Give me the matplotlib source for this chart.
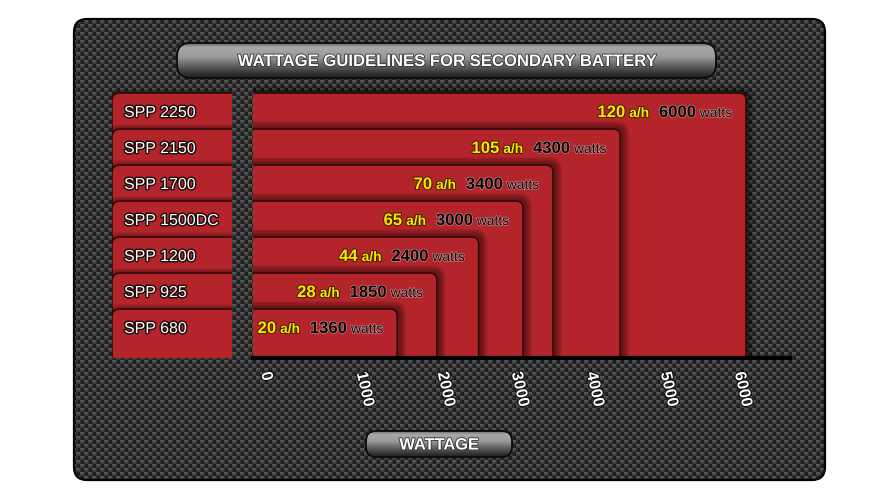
import numpy as np
import matplotlib
matplotlib.use('Agg')
import matplotlib.pyplot as plt
from matplotlib.patches import FancyBboxPatch
from matplotlib.transforms import IdentityTransform, Bbox
import matplotlib.patheffects as pe

# ---------------- data ----------------
models = ['SPP 2250', 'SPP 2150', 'SPP 1700', 'SPP 1500DC', 'SPP 1200', 'SPP 925', 'SPP 680']
watts = [6000, 4300, 3400, 3000, 2400, 1850, 1360]
amp_hours = [120, 105, 70, 65, 44, 28, 20]
tick_values = [0, 1000, 2000, 3000, 4000, 5000, 6000]
title = 'WATTAGE GUIDELINES FOR SECONDARY BATTERY'
xlabel = 'WATTAGE'

plt.rcParams['font.family'] = ['Liberation Sans', 'DejaVu Sans']

W, H = 896, 500
fig = plt.figure(figsize=(W / 100, H / 100), dpi=100)
fig.patch.set_facecolor('white')

RED = '#B3252A'
YELLOW = '#FFE400'

# ---------------- background axes (pixel coords, y down) ----------------
bg = fig.add_axes([0, 0, 1, 1])
bg.set_xlim(0, W)
bg.set_ylim(H, 0)
bg.axis('off')

panel = FancyBboxPatch((74, 19), 751, 461, boxstyle='round,pad=0,rounding_size=13',
                       facecolor='#262626', edgecolor='none', zorder=1)
bg.add_patch(panel)
yy, xx = np.mgrid[0:H, 0:W]
cell = ((yy // 4) + (xx // 4)) % 2
ly = yy % 4
lx = xx % 4
tex = np.where(cell == 0, 90 - 11 * ly, 44 - 6 * lx) / 255.0
img = bg.imshow(tex, cmap='gray', vmin=0, vmax=1, extent=(0, W, H, 0),
                interpolation='nearest', zorder=2, aspect='auto')
img.set_clip_path(panel)
bg.add_patch(FancyBboxPatch((74, 19), 751, 461, boxstyle='round,pad=0,rounding_size=13',
                            facecolor='none', edgecolor='#050505', lw=1.6, zorder=3))
bg.set_xlim(0, W)
bg.set_ylim(H, 0)


def pill(x, y, w, h, text, size):
    p = FancyBboxPatch((x, y), w, h, boxstyle='round,pad=0,rounding_size=%f' % (h / 2.6),
                       facecolor='#555555', edgecolor='none', zorder=4)
    bg.add_patch(p)
    fr = np.linspace(0, 1, 64)
    g = np.interp(fr, [0, 0.12, 0.4, 0.6, 0.85, 1], [0.40, 0.66, 0.60, 0.42, 0.22, 0.12])
    grad = np.tile(g[:, None], (1, 8))
    gi = bg.imshow(grad, cmap='gray', vmin=0, vmax=1, extent=(x, x + w, y + h, y),
                   interpolation='bilinear', zorder=5, aspect='auto')
    gi.set_clip_path(p)
    bg.add_patch(FancyBboxPatch((x, y), w, h, boxstyle='round,pad=0,rounding_size=%f' % (h / 2.6),
                                facecolor='none', edgecolor='#0a0a0a', lw=1.3, zorder=6))
    bg.text(x + w / 2, y + h / 2 + 1, text, ha='center', va='center', color='white',
            fontsize=size, fontweight='bold', zorder=7,
            path_effects=[pe.withStroke(linewidth=1.2, foreground='#333333')])


pill(177, 43, 539, 35, title, 12)
pill(366, 431, 146, 26, xlabel, 11.8)
bg.set_xlim(0, W)
bg.set_ylim(H, 0)

# ---------------- data axes ----------------
knots_x = [-1000, 0, 1000, 2000, 3000, 4000, 5000, 6000, 7000]
knots_px = [-111, 0, 115, 196, 270, 345, 419, 493, 567]


def fwd(x):
    return np.interp(x, knots_x, knots_px)


def inv(p):
    return np.interp(p, knots_px, knots_x)


xmax = 6600
ax_w = float(fwd(xmax))
row_px = 36.0
ymax = 7.6
ax = fig.add_axes([253 / W, (H - 358) / H, ax_w / W, ymax * row_px / H])
ax.set_xscale('function', functions=(fwd, inv))
ax.set_xlim(0, xmax)
ax.set_ylim(0, ymax)
ax.patch.set_visible(False)
for s in ['top', 'right', 'left']:
    ax.spines[s].set_visible(False)
ax.spines['bottom'].set_linewidth(3)
ax.spines['bottom'].set_color('black')
ax.spines['bottom'].set_zorder(20)
ax.set_yticks([])
ax.set_xticks(tick_values)
ax.tick_params(axis='x', length=0, labelbottom=False)

n = len(models)
base = 0.36
tops = [n - k + base for k in range(n)]
trans = ax.transData
ident = IdentityTransform()

_, ybot_disp = trans.transform((0, 0))
tab_clip = Bbox.from_extents(112, ybot_disp, 232, H)

for k in range(n):
    w = watts[k]
    top = tops[k]
    x0, ytop = trans.transform((0, top))
    x1, ybot = trans.transform((w, 0))
    left = x0 - 14
    bottom = ybot - 14
    # soft shadow
    for s in range(7, 0, -1):
        sh = FancyBboxPatch((left + 2 - s, bottom), (x1 - left) + 2 * s, (ytop - bottom) + 1 + s,
                            boxstyle='round,pad=0,rounding_size=%f' % (6 + s),
                            facecolor='black', alpha=0.07, lw=0, transform=ident, zorder=2)
        ax.add_patch(sh)
    ax.add_patch(FancyBboxPatch((left, bottom), x1 - left, ytop - bottom,
                                boxstyle='round,pad=0,rounding_size=7',
                                facecolor=RED, edgecolor='#2a0707', lw=1.1,
                                transform=ident, zorder=2))

    # left tab (same row geometry), drawn in display coords
    tl, tb, tw = 112, ybot - 14, 140
    for s in range(5, 0, -1):
        sh = FancyBboxPatch((tl - s, tb), tw + 2 * s, (ytop - tb) + s,
                            boxstyle='round,pad=0,rounding_size=%f' % (8 + s),
                            facecolor='black', alpha=0.08, lw=0, transform=ident, zorder=2)
        sh.set_clip_box(tab_clip)
        sh.set_clip_on(True)
        fig.add_artist(sh)
    tab = FancyBboxPatch((tl, tb), tw, ytop - tb, boxstyle='round,pad=0,rounding_size=8',
                         facecolor=RED, edgecolor='#2a0707', lw=1.1, transform=ident, zorder=2)
    tab.set_clip_box(tab_clip)
    tab.set_clip_on(True)
    fig.add_artist(tab)
    fig.text(124 / W, (ytop - row_px / 2 - 6) / H, models[k], ha='left', va='baseline',
             color='white', fontsize=11.5, zorder=3,
             path_effects=[pe.withStroke(linewidth=2, foreground='#1a0a0a')])

# bar value labels (drawn after all bars)
black_fx = [pe.withStroke(linewidth=0.8, foreground='#d8a0a0')]
yellow_fx = [pe.withStroke(linewidth=1.4, foreground='#3a2000')]
for k in range(n):
    yb = tops[k] - 0.5 - 6 / row_px
    t_w = ax.annotate('watts', xy=(watts[k], yb), xycoords='data', xytext=(-10, 0),
                      textcoords='offset points', ha='right', va='baseline', fontsize=10,
                      color='#050505', path_effects=black_fx, zorder=30)
    t_v = ax.annotate(str(watts[k]), xy=(0, yb), xycoords=(t_w, 'data'), xytext=(-3, 0),
                      textcoords='offset points', ha='right', va='baseline', fontsize=12,
                      fontweight='bold', color='#050505', path_effects=black_fx, zorder=30)
    t_u = ax.annotate('a/h', xy=(0, yb), xycoords=(t_v, 'data'), xytext=(-7, 0),
                      textcoords='offset points', ha='right', va='baseline', fontsize=9.9,
                      fontweight='bold', color=YELLOW, path_effects=yellow_fx, zorder=30)
    ax.annotate(str(amp_hours[k]), xy=(0, yb), xycoords=(t_u, 'data'), xytext=(-3, 0),
                textcoords='offset points', ha='right', va='baseline', fontsize=12,
                fontweight='bold', color=YELLOW, path_effects=yellow_fx, zorder=30)

# rotated tick labels
for t in tick_values:
    dx = 9 if t == 0 else -5
    ax.annotate(str(t), xy=(t, 0), xycoords=('data', 'axes fraction'), xytext=(dx, -10),
                textcoords='offset points', rotation=-77, rotation_mode='anchor',
                ha='left', va='center', color='white', fontsize=11.5, fontweight='bold',
                annotation_clip=False,
                path_effects=[pe.withStroke(linewidth=1.5, foreground='#111111')])

fig.savefig('out.png', dpi=100, facecolor='white')
